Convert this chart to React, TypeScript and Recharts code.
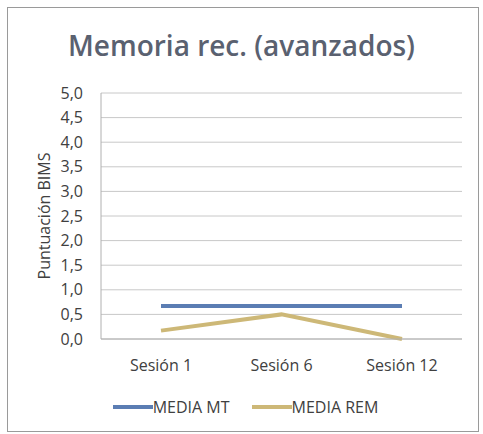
import { LineChart, Line, XAxis, YAxis, CartesianGrid, Legend } from 'recharts'

const sessions = ['Sesión 1', 'Sesión 6', 'Sesión 12']
const mediaMT = [0.67, 0.67, 0.67]
const mediaREM = [0.17, 0.5, 0]
const yTicks = [0, 0.5, 1, 1.5, 2, 2.5, 3, 3.5, 4, 4.5, 5]

const data = sessions.map((s, i) => ({ session: s, mt: mediaMT[i], rem: mediaREM[i] }))

const FONT = "'Open Sans', sans-serif"

function LegendContent({ payload }: any) {
  return (
    <div style={{ display: 'flex', justifyContent: 'center', gap: 22, fontFamily: FONT, fontSize: 16, color: '#404040', paddingLeft: 8, lineHeight: '22px' }}>
      {(payload || []).map((p: any) => (
        <div key={p.value} style={{ display: 'flex', alignItems: 'center' }}>
          <span style={{ display: 'inline-block', width: 40, height: 4, background: p.color }} />
          <span>{p.value}</span>
        </div>
      ))}
    </div>
  )
}

export default function App() {
  return (
    <div style={{ position: 'absolute', left: 0, top: 0, width: 483, height: 434, background: '#fff' }}>
      <div style={{ position: 'absolute', left: 7, top: 7, width: 470, height: 423, border: '1px solid #9a9a9a' }} />
      <div style={{ position: 'absolute', left: 0, top: 26, width: 483, textAlign: 'center', fontFamily: FONT, fontSize: 28, fontWeight: 600, color: '#5a6170' }}>
        Memoria rec. (avanzados)
      </div>
      <div style={{ position: 'absolute', left: 0, top: 0 }}>
        <LineChart width={483} height={434} data={data} margin={{ top: 93, right: 21, bottom: 43, left: 0 }}>
          <CartesianGrid vertical={false} stroke="#c8c8c8" />
          <XAxis dataKey="session" padding={{ left: 60, right: 60 }} height={30} tickLine={false} axisLine={{ stroke: '#b0b0b0' }}
                 tick={{ fontSize: 16, fontFamily: FONT, fill: '#404040' }} tickMargin={15} />
          <YAxis domain={[0, 5]} ticks={yTicks} width={101} tickLine={false} axisLine={{ stroke: '#b0b0b0' }} tickSize={0} tickMargin={18}
                 tickFormatter={(v: number) => v.toFixed(1).replace('.', ',')}
                 tick={{ fontSize: 16, fontFamily: FONT, fill: '#404040' }}
                 label={{ value: 'Puntuación BIMS', angle: -90, position: 'insideLeft', offset: 44,
                          style: { textAnchor: 'middle', fontSize: 16, fontFamily: FONT, fill: '#404040' } }} />
          <Legend content={<LegendContent />} wrapperStyle={{ top: 396, bottom: 'auto', left: 0, width: 483 }} />
          <Line dataKey="mt" name="MEDIA MT" stroke="#5b7db3" strokeWidth={4} dot={false} isAnimationActive={false} />
          <Line dataKey="rem" name="MEDIA REM" stroke="#cdb877" strokeWidth={4} dot={false} isAnimationActive={false} />
        </LineChart>
      </div>
    </div>
  )
}
